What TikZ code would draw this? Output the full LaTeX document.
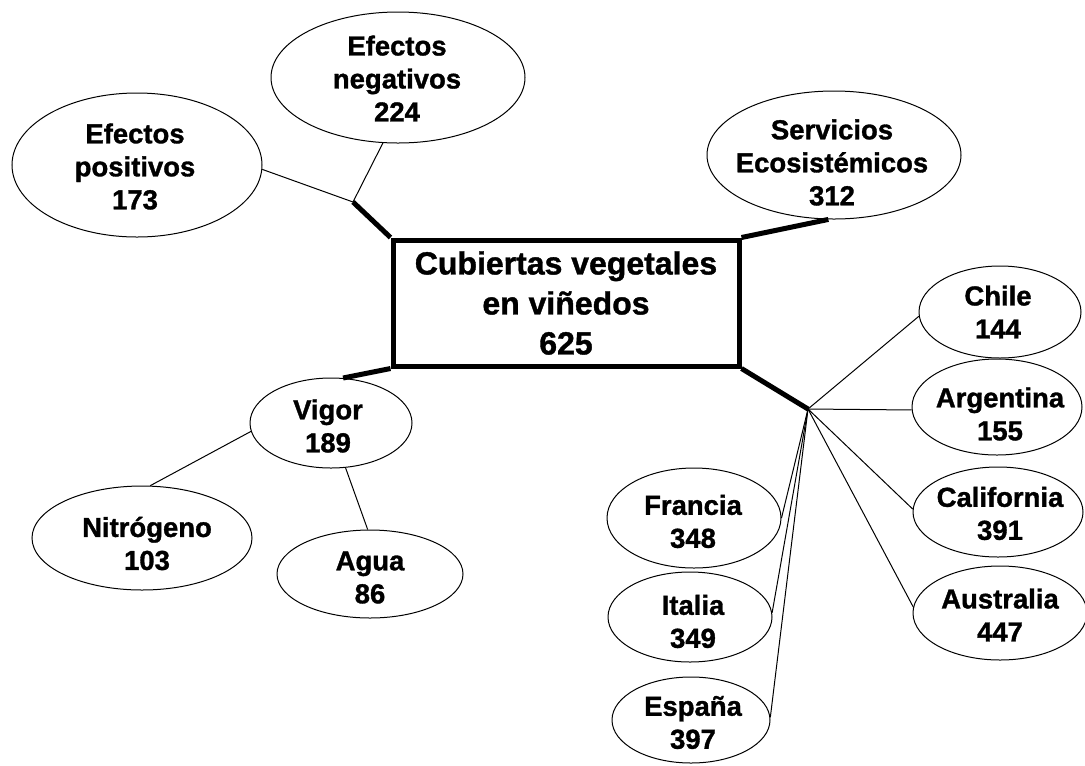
\documentclass[tikz,border=0pt]{standalone}
\usepackage{fontspec}
\setmainfont{Liberation Sans}[BoldFeatures={FakeBold=1.2}]
\usetikzlibrary{shapes.geometric}
\begin{document}
\begin{tikzpicture}[x=0.75pt,y=-0.75pt,
  ell/.style={draw, ellipse, line width=0.75pt, inner sep=0pt},
  esz/.style 2 args={minimum width=#1*1.5pt, minimum height=#2*1.5pt},
  etext/.style={align=center, inner sep=0pt, font=\bfseries\fontsize{20.6}{24.75}\selectfont},
  mainbox/.style={draw, rectangle, line width=3.75pt, inner sep=0pt, align=center,
     minimum width=259.5pt, minimum height=94.5pt, font=\bfseries\fontsize{24}{30}\selectfont},
  thin/.style={line width=0.75pt},
  thick/.style={line width=3.75pt}]
\useasboundingbox (0,0) rectangle (1085,765);
\fill[white] (0,0) rectangle (1085,765);

% central box
\node[mainbox] (main) at (566,303) {Cubiertas vegetales\\en viñedos\\625};

% ellipses
\node[ell, esz={125}{72}] (epos) at (137,165) {};
\node[etext] (epos-t) at (135,166.5) {Efectos\\positivos\\173};
\node[ell, esz={127}{65.5}] (eneg) at (398,77.5) {};
\node[etext] (eneg-t) at (397,78.5) {Efectos\\negativos\\224};
\node[ell, esz={127}{64}] (serv) at (834,155) {};
\node[etext] (serv-t) at (832,162.5) {Servicios\\Ecosistémicos\\312};

\node[ell, esz={81}{45}] (vigor) at (331,423) {};
\node[etext] (vigor-t) at (328,426) {Vigor\\189};
\node[ell, esz={110}{52}] (nitro) at (142,538) {};
\node[etext] (nitro-t) at (147,543.5) {Nitrógeno\\103};
\node[ell, esz={93}{44}] (agua) at (370,574) {};
\node[etext] (agua-t) at (370,577.5) {Agua\\86};

\node[ell, esz={81}{46}] (chile) at (1000,312) {};
\node[etext] (chile-t) at (998,312) {Chile\\144};
\node[ell, esz={85}{48}] (arg) at (997,407) {};
\node[etext] (arg-t) at (1000,414) {Argentina\\155};
\node[ell, esz={85}{45}] (cal) at (998,512) {};
\node[etext] (cal-t) at (1000,513.5) {California\\391};
\node[ell, esz={87}{47}] (aus) at (1000,613) {};
\node[etext] (aus-t) at (1000,615) {Australia\\447};

\node[ell, esz={87}{50}] (fra) at (694,518) {};
\node[etext] (fra-t) at (693,521.5) {Francia\\348};
\node[ell, esz={82}{45}] (ita) at (690,617) {};
\node[etext] (ita-t) at (693,621.5) {Italia\\349};
\node[ell, esz={79}{43}] (esp) at (691,720) {};
\node[etext] (esp-t) at (693,722.5) {España\\397};

% junctions
\coordinate (j1) at (353,202);
\coordinate (hub) at (808,409);

% connectors
\draw[thick] (main.north west) -- (j1);
\draw[thin] (j1) -- (epos.-2);
\draw[thin] (j1) -- (eneg.257);
\draw[thick] (main.north east) -- (serv.265);
\draw[thick] (main.south west) -- (vigor.75);
\draw[thin] (vigor.186) -- (nitro.81);
\draw[thin] (vigor.-72) -- (agua.93);
\draw[thick] (main.south east) -- (hub);
\draw[thin] (hub) -- (chile.183);
\draw[thin] (hub) -- (arg.182);
\draw[thin] (hub) -- (cal.178);
\draw[thin] (hub) -- (aus.176);
\draw[thin] (hub) -- (fra.0);
\draw[thin] (hub) -- (ita.3);
\draw[thin] (hub) -- (esp.2);
\end{tikzpicture}
\end{document}
